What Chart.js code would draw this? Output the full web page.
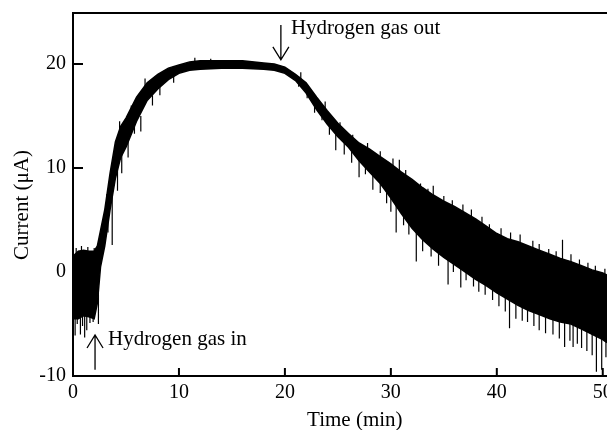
<!DOCTYPE html>
<html>
<head>
<meta charset="utf-8">
<script src="https://cdn.jsdelivr.net/npm/chart.js@4.4.1/dist/chart.umd.min.js"></script>
<style>
  html, body { margin: 0; padding: 0; background: #fff; }
  canvas { display: block; }
</style>
</head>
<body>
<canvas id="currentChart" width="607" height="430"></canvas>
<script>
// Sensor current vs time; the trace is noisy, so it is kept as its upper and lower edge
const times = [0, 0.5, 1, 1.5, 2, 2.3, 2.6, 3, 3.5, 4, 4.5, 5, 6, 7, 8, 9, 10, 11, 12, 14, 16, 18, 19, 20,
  21, 22, 23, 24, 25, 26, 27, 28, 29, 30, 31, 32, 33, 34, 35, 36, 37, 38, 39, 40,
  41, 42, 43, 44, 45, 46, 47, 48, 49, 50, 50.4];
const upperCurrent = [1.5, 2.0, 2.1, 2.0, 2.0, 2.5, 4.0, 6.0, 9.5, 12.5, 14.0, 14.8, 16.8, 18.2, 19.0, 19.6, 19.9, 20.2, 20.3, 20.3, 20.3, 20.1, 20.0, 19.7,
  19.0, 18.2, 16.8, 15.5, 14.3, 13.3, 12.4, 11.8, 11.1, 10.4, 9.6, 8.9, 8.1, 7.4, 6.8, 6.3, 5.7, 5.1, 4.4, 3.7,
  3.2, 2.9, 2.5, 2.1, 1.7, 1.3, 1.0, 0.6, 0.2, -0.1, -0.3];
const lowerCurrent = [-4.5, -4.5, -4.2, -4.3, -4.5, -3.0, 0.5, 2.5, 6.0, 9.0, 11.0, 12.0, 14.5, 16.5, 17.6, 18.5, 19.1, 19.4, 19.5, 19.6, 19.6, 19.5, 19.4, 19.1,
  18.4, 17.2, 15.6, 14.2, 13.0, 12.0, 10.7, 9.6, 8.5, 7.1, 5.6, 4.2, 3.1, 2.2, 1.4, 0.7, 0.0, -0.7, -1.3, -2.0,
  -2.6, -3.2, -3.7, -4.1, -4.5, -4.8, -5.0, -5.5, -6.0, -6.5, -6.8];
// Single noise spikes: [time, base, tip]
const spikesDown = [
  [0.0, -2.0, -5.5], [0.2, -4.0, -6.1], [0.4, -2.0, -5.0], [0.7, -4.0, -6.0], [0.9, -2.0, -5.2],
  [1.1, -4.0, -6.3], [1.3, -2.0, -5.6], [1.6, -4.0, -4.9], [1.9, -2.0, -4.8], [2.4, -2.0, -5.0],
  [3.3, 6.0, 3.8], [3.7, 8.0, 2.6], [4.2, 10.0, 7.8], [4.6, 12.0, 9.5], [5.2, 13.0, 11.0],
  [5.8, 15.0, 13.3], [6.4, 15.0, 13.5], [7.5, 17.0, 16.0], [8.2, 18.0, 17.0], [9.5, 19.0, 18.2],
  [21.3, 18.8, 17.8], [22.1, 17.8, 16.7], [22.8, 16.5, 15.3], [23.5, 15.8, 14.6], [24.2, 15.0, 13.2],
  [24.8, 13.8, 11.7], [25.6, 13.0, 11.3], [26.3, 12.3, 10.5], [27.0, 11.0, 9.1], [27.6, 11.0, 9.4],
  [28.3, 10.0, 7.9], [29.0, 9.5, 7.6], [29.6, 8.8, 6.6], [30.0, 8.0, 5.8], [30.5, 7.6, 3.8],
  [31.2, 6.5, 4.5], [31.7, 6.0, 3.6], [32.4, 4.2, 1.0], [33.0, 4.5, 2.0], [33.8, 4.0, 1.5],
  [34.5, 3.0, 0.6], [35.4, 1.6, -1.2], [35.9, 2.0, 0.0], [36.6, 0.8, -1.5], [37.1, 1.0, -0.8],
  [37.8, 0.5, -1.4], [38.3, -0.4, -1.9], [38.9, 0.0, -2.2], [39.6, -1.4, -2.7], [40.2, -1.0, -3.3],
  [40.8, -1.5, -3.8], [41.2, -2.4, -5.4], [41.8, -2.0, -4.5], [42.4, -2.5, -4.7], [42.9, -3.4, -4.8],
  [43.5, -3.0, -5.2], [44.0, -3.0, -5.6], [44.6, -4.0, -5.9], [45.3, -3.5, -6.0], [45.9, -4.0, -6.4],
  [46.4, -4.6, -7.2], [46.9, -4.0, -6.6], [47.2, -4.8, -7.2], [47.6, -4.5, -6.9], [48.0, -5.2, -7.3],
  [48.5, -5.0, -7.6], [49.0, -5.0, -8.0], [49.4, -5.6, -9.6], [49.9, -6.0, -9.4], [50.3, -5.5, -8.2]
];
const spikesUp = [
  [0.3, 0.0, 2.3], [0.8, 0.0, 2.5], [1.4, 0.0, 2.4], [2.0, 0.0, 2.3],
  [3.2, 5.0, 7.5], [4.4, 12.0, 14.5], [5.5, 14.0, 16.0], [6.8, 17.0, 18.6],
  [11.5, 19.8, 20.6], [13.0, 20.0, 20.5],
  [21.5, 18.0, 19.2], [23.8, 15.0, 16.4], [25.2, 13.5, 14.4], [26.4, 12.0, 13.2], [27.8, 11.0, 12.4],
  [29.0, 10.0, 11.6], [30.2, 9.0, 10.9], [30.8, 9.0, 10.8], [31.4, 8.0, 9.8], [32.8, 7.0, 8.5],
  [33.5, 6.5, 8.0], [34.0, 6.0, 8.3], [35.0, 5.0, 7.3], [35.8, 4.5, 6.9], [36.8, 4.0, 6.5],
  [37.6, 3.5, 6.0], [38.6, 3.0, 5.3], [39.3, 2.0, 4.6], [40.4, 1.5, 4.2], [41.3, 1.0, 3.8],
  [42.2, 0.5, 3.6], [43.4, 1.5, 3.0], [44.0, 0.0, 2.7], [44.9, -0.5, 2.2], [45.6, -1.0, 2.0],
  [46.2, 0.5, 3.1], [47.0, -1.5, 1.7], [47.8, -2.0, 1.2], [48.6, -2.5, 0.9], [49.3, -3.0, 0.6],
  [50.2, -3.0, 0.3]
];
const xTicks = [0, 10, 20, 30, 40, 50];
const yTicks = [-10, 0, 10, 20];

const FONT = '"Liberation Serif", "Times New Roman", serif';

const upperData = times.map((t, i) => ({ x: t, y: upperCurrent[i] }));
const lowerData = times.map((t, i) => ({ x: t, y: lowerCurrent[i] }));
const spikeData = [];
spikesDown.concat(spikesUp).forEach(s => {
    spikeData.push({ x: s[0], y: s[1] }, { x: s[0], y: s[2] }, { x: s[0], y: null });
});

// Frame top line, inward tick marks, axis titles and the gas in/out arrows
const decorations = {
    id: 'decorations',
    afterDraw(chart) {
        const { ctx, chartArea: a, scales: { x, y } } = chart;
        ctx.save();
        ctx.strokeStyle = '#000';
        ctx.lineWidth = 2;
        ctx.beginPath();
        ctx.moveTo(a.left - 1, a.top);
        ctx.lineTo(a.right, a.top);
        xTicks.forEach(v => {
            const px = x.getPixelForValue(v);
            ctx.moveTo(px, a.bottom);
            ctx.lineTo(px, a.bottom - 8);
        });
        yTicks.forEach(v => {
            const py = y.getPixelForValue(v);
            ctx.moveTo(a.left, py);
            ctx.lineTo(a.left + 10, py);
        });
        ctx.stroke();

        ctx.fillStyle = '#000';
        ctx.font = '21px ' + FONT;
        ctx.textBaseline = 'alphabetic';
        ctx.textAlign = 'center';
        ctx.fillText('Time (min)', x.getPixelForValue(26.6), 426);

        ctx.save();
        ctx.translate(22, 205);
        ctx.rotate(-Math.PI / 2);
        ctx.textBaseline = 'middle';
        ctx.fillText('Current (\u03bcA)', 0, 0);
        ctx.restore();

        ctx.textAlign = 'left';
        ctx.fillText('Hydrogen gas out', x.getPixelForValue(20.57), y.getPixelForValue(22.9));
        ctx.fillText('Hydrogen gas in', x.getPixelForValue(3.3), y.getPixelForValue(-7.0));

        ctx.lineWidth = 1.3;
        drawArrow(ctx, x.getPixelForValue(19.62), y.getPixelForValue(23.75), y.getPixelForValue(20.4));
        drawArrow(ctx, x.getPixelForValue(2.08), y.getPixelForValue(-9.4), y.getPixelForValue(-6.06));
        ctx.restore();
    }
};

function drawArrow(ctx, px, fromY, toY) {
    const dir = toY > fromY ? 1 : -1;
    ctx.beginPath();
    ctx.moveTo(px, fromY);
    ctx.lineTo(px, toY);
    ctx.moveTo(px - 8, toY - dir * 13);
    ctx.lineTo(px, toY);
    ctx.lineTo(px + 8, toY - dir * 13);
    ctx.stroke();
}

const tickFont = { family: FONT, size: 20 };

new Chart(document.getElementById('currentChart'), {
    type: 'line',
    data: {
        datasets: [
            {
                data: upperData,
                borderColor: '#000',
                borderWidth: 1.5,
                backgroundColor: '#000',
                fill: '+1',
                pointRadius: 0,
                tension: 0
            },
            {
                data: lowerData,
                borderColor: '#000',
                borderWidth: 1.5,
                pointRadius: 0,
                fill: false,
                tension: 0
            },
            {
                data: spikeData,
                borderColor: '#000',
                borderWidth: 1.2,
                pointRadius: 0,
                fill: false,
                spanGaps: false,
                tension: 0
            }
        ]
    },
    options: {
        responsive: false,
        devicePixelRatio: 1,
        animation: false,
        layout: { padding: { top: 13, left: 0, right: 0, bottom: 0 } },
        plugins: {
            legend: { display: false },
            tooltip: { enabled: false }
        },
        scales: {
            x: {
                type: 'linear',
                min: 0,
                max: 50.4,
                grid: { display: false, drawTicks: false },
                border: { display: true, color: '#000', width: 2 },
                ticks: { color: '#000', font: tickFont, padding: 5, maxRotation: 0, autoSkip: false },
                afterBuildTicks: s => { s.ticks = xTicks.map(v => ({ value: v })); },
                afterFit: s => { s.height = 54; s.paddingLeft = 0; s.paddingRight = 0; }
            },
            y: {
                type: 'linear',
                min: -10,
                max: 24.9,
                grid: { display: false, drawTicks: false },
                border: { display: true, color: '#000', width: 2 },
                ticks: { color: '#000', font: tickFont, padding: 7, autoSkip: false },
                afterBuildTicks: s => { s.ticks = yTicks.map(v => ({ value: v })); },
                afterFit: s => { s.width = 73; s.paddingTop = 0; s.paddingBottom = 0; }
            }
        }
    },
    plugins: [decorations]
});
</script>
</body>
</html>
